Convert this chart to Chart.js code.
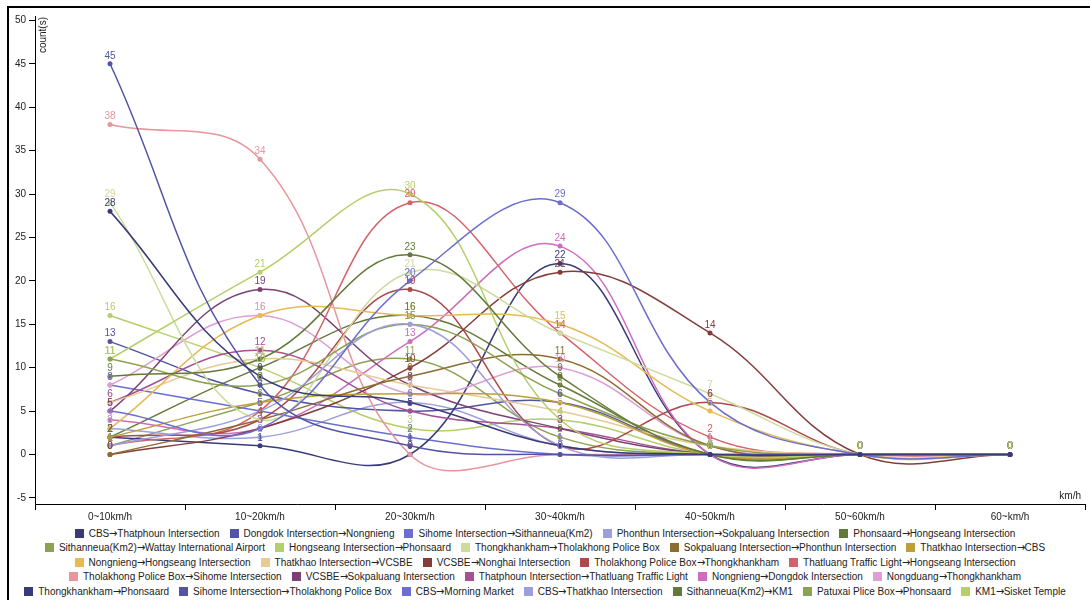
<!DOCTYPE html>
<html>
<head>
<meta charset="utf-8">
<script src="https://cdn.jsdelivr.net/npm/chart.js@4.4.1/dist/chart.umd.min.js"></script>
<style>
  @font-face { font-family: "LegendArrow"; src: local("DejaVu Sans"); unicode-range: U+2192; }
  html, body { margin: 0; padding: 0; background: #fff; }
  #wrap { position: relative; width: 1090px; height: 600px; overflow: hidden; font-family: "Liberation Sans", Arial, sans-serif; }
  #frame { position: absolute; left: 7px; top: 6px; width: 1300px; height: 800px; border-left: 2px solid #000; border-top: 2px solid #000; }
  #chartBox { position: absolute; left: 0; top: 0; width: 1090px; height: 522px; }
  #legend { position: absolute; left: 0; top: 526px; width: 1090px; font-size: 10px; color: #222; font-family: "LegendArrow", "Liberation Sans", Arial, sans-serif; }
  .row { display: flex; justify-content: center; align-items: center; height: 14.5px; white-space: nowrap; }
  .item { display: flex; align-items: center; margin: 0 5px; }
  .sw { width: 9px; height: 9px; margin-right: 5px; }
</style>
</head>
<body>
<div id="wrap">
  <div id="frame"></div>
  <div id="chartBox"><canvas id="c" width="1090" height="522"></canvas></div>
  <div id="legend"></div>
</div>
<script>
// Speed bands on the x axis
const speedBands = ["0~10km/h", "10~20km/h", "20~30km/h", "30~40km/h", "40~50km/h", "50~60km/h", "60~km/h"];
const yTickValues = [-5, 0, 5, 10, 15, 20, 25, 30, 35, 40, 45, 50];

// Vehicle counts per speed band, one array per route
const cbsToThatphoun            = [28, 9, 6, 1, 0, 0, 0];
const dongdokToNongnieng        = [45, 8, 1, 0, 0, 0, 0];
const sihomeToSithanneua        = [5, 3, 20, 29, 6, 0, 0];
const phonthunToSokpaluang      = [1, 5, 15, 1, 0, 0, 0];
const phonsaardToHongseang      = [9, 11, 23, 9, 0, 0, 0];
const sithanneuaToWattay        = [11, 8, 15, 7, 1, 0, 0];
const hongseangToPhonsaard      = [11, 21, 30, 4, 0, 0, 0];
const thongkhankhamToTholakhong = [29, 4, 21, 14, 7, 0, 0];
const sokpaluangToPhonthun      = [0, 4, 9, 11, 1, 0, 0];
const thatkhaoToCbs             = [2, 6, 7, 6, 0, 0, 0];
const nongniengToHongseang      = [3, 16, 16, 15, 5, 0, 0];
const thatkhaoToVcsbe           = [6, 11, 8, 5, 1, 0, 0];
const vcsbeToNonghai            = [0, 3, 10, 21, 14, 0, 0];
const tholakhongToThongkhankham = [2, 4, 19, 1, 6, 0, 0];
const thatluangToHongseang      = [1, 5, 29, 14, 2, 0, 0];
const tholakhongToSihome        = [38, 34, 0, 0, 0, 0, 0];
const vcsbeToSokpaluang         = [5, 19, 8, 3, 0, 0, 0];
const thatphounToThatluang      = [6, 12, 5, 3, 0, 0, 0];
const nongniengToDongdok        = [4, 3, 13, 24, 0, 0, 0];
const nongduangToThongkhankham  = [8, 16, 7, 10, 1, 0, 0];
const thongkhankhamToPhonsaard  = [2, 1, 0, 22, 0, 0, 0];
const sihomeToTholakhong        = [13, 7, 5, 6, 0, 0, 0];
const cbsToMorningMarket        = [8, 5, 2, 0, 0, 0, 0];
const cbsToThatkhao             = [3, 2, 6, 1, 0, 0, 0];
const sithanneuaToKm1           = [2, 10, 16, 8, 0, 0, 0];
const patuxaiToPhonsaard        = [1, 6, 11, 2, 0, 0, 0];
const km1ToSisket               = [16, 10, 3, 4, 0, 0, 0];

const routeNames = [
  "CBS→Thatphoun Intersection", "Dongdok Intersection→Nongnieng", "Sihome Intersection→Sithanneua(Km2)",
  "Phonthun Intersection→Sokpaluang Intersection", "Phonsaard→Hongseang Intersection",
  "Sithanneua(Km2)→Wattay International Airport", "Hongseang Intersection→Phonsaard",
  "Thongkhankham→Tholakhong Police Box", "Sokpaluang Intersection→Phonthun Intersection", "Thatkhao Intersection→CBS",
  "Nongnieng→Hongseang Intersection", "Thatkhao Intersection→VCSBE", "VCSBE→Nonghai Intersection",
  "Tholakhong Police Box→Thongkhankham", "Thatluang Traffic Light→Hongseang Intersection",
  "Tholakhong Police Box→Sihome Intersection", "VCSBE→Sokpaluang Intersection",
  "Thatphoun Intersection→Thatluang Traffic Light", "Nongnieng→Dongdok Intersection", "Nongduang→Thongkhankham",
  "Thongkhankham→Phonsaard", "Sihome Intersection→Tholakhong Police Box", "CBS→Morning Market",
  "CBS→Thatkhao Intersection", "Sithanneua(Km2)→KM1", "Patuxai Plice Box→Phonsaard", "KM1→Sisket Temple"
];
const routeCounts = [
  cbsToThatphoun, dongdokToNongnieng, sihomeToSithanneua, phonthunToSokpaluang, phonsaardToHongseang,
  sithanneuaToWattay, hongseangToPhonsaard, thongkhankhamToTholakhong, sokpaluangToPhonthun, thatkhaoToCbs,
  nongniengToHongseang, thatkhaoToVcsbe, vcsbeToNonghai, tholakhongToThongkhankham, thatluangToHongseang,
  tholakhongToSihome, vcsbeToSokpaluang, thatphounToThatluang, nongniengToDongdok, nongduangToThongkhankham,
  thongkhankhamToPhonsaard, sihomeToTholakhong, cbsToMorningMarket, cbsToThatkhao, sithanneuaToKm1,
  patuxaiToPhonsaard, km1ToSisket
];
const palette = [
  "#393b79", "#5254a3", "#6b6ecf", "#9c9ede", "#637939", "#8ca252", "#b5cf6b", "#cedb9c",
  "#8c6d31", "#bd9e39", "#e7ba52", "#e7cb94", "#843c39", "#ad494a", "#d6616b", "#e7969c",
  "#7b4173", "#a55194", "#ce6dbd", "#de9ed6"
];
const legendRowSizes = [5, 5, 5, 5, 7];

const FONT = '"Liberation Sans", Arial, sans-serif';

// Value written above every point, in the series colour
const valueLabels = {
  id: 'valueLabels',
  afterDatasetsDraw(chart) {
    const ctx = chart.ctx;
    ctx.save();
    ctx.font = '10px ' + FONT;
    ctx.textAlign = 'center';
    ctx.textBaseline = 'bottom';
    chart.data.datasets.forEach((ds, i) => {
      const meta = chart.getDatasetMeta(i);
      ctx.fillStyle = ds.borderColor;
      meta.data.forEach((pt, j) => ctx.fillText(String(ds.data[j]), pt.x, pt.y - 3));
    });
    ctx.restore();
  }
};

// Axis unit captions
const axisCaptions = {
  id: 'axisCaptions',
  afterDraw(chart) {
    const ctx = chart.ctx, a = chart.chartArea;
    ctx.save();
    ctx.font = '10px ' + FONT;
    ctx.fillStyle = '#222';
    ctx.textAlign = 'right';
    ctx.textBaseline = 'alphabetic';
    ctx.fillText('km/h', a.right - 4, a.bottom - 5);
    ctx.translate(a.left + 8, a.top + 1);
    ctx.rotate(-Math.PI / 2);
    ctx.textAlign = 'right';
    ctx.textBaseline = 'middle';
    ctx.fillText('count(s)', 0, 0);
    ctx.restore();
  }
};

const datasets = routeNames.map((name, i) => ({
  label: name,
  data: routeCounts[i],
  borderColor: palette[i % palette.length],
  backgroundColor: palette[i % palette.length],
  borderWidth: 1.5,
  pointRadius: 2.5,
  pointBorderWidth: 0,
  pointBackgroundColor: palette[i % palette.length],
  tension: 0.4,
  fill: false
}));

new Chart(document.getElementById('c'), {
  type: 'line',
  data: { labels: speedBands, datasets },
  plugins: [valueLabels, axisCaptions],
  options: {
    responsive: false,
    animation: false,
    events: [],
    layout: { padding: { top: 16, right: 5, left: 0, bottom: 0 } },
    plugins: { legend: { display: false }, tooltip: { enabled: false } },
    scales: {
      x: {
        offset: true,
        grid: { display: true, offset: true, drawOnChartArea: false, drawTicks: true, tickLength: 6, tickColor: '#000' },
        border: { display: true, color: '#000', width: 1 },
        ticks: { color: '#222', font: { family: FONT, size: 10 }, padding: 1, maxRotation: 0, autoSkip: false },
        afterFit(s) { s.height = 18; }
      },
      y: {
        min: -5.7,
        max: 50.5,
        afterBuildTicks(s) { s.ticks = yTickValues.map(v => ({ value: v })); },
        grid: { display: true, drawOnChartArea: false, drawTicks: true, tickLength: 6, tickColor: '#000' },
        border: { display: true, color: '#000', width: 1 },
        ticks: { color: '#222', font: { family: FONT, size: 10 }, padding: 3 },
        afterFit(s) { s.width = 35; }
      }
    }
  }
});

// Legend rows
const legend = document.getElementById('legend');
let idx = 0;
legendRowSizes.forEach(n => {
  const row = document.createElement('div');
  row.className = 'row';
  for (let k = 0; k < n; k++, idx++) {
    const item = document.createElement('span');
    item.className = 'item';
    const sw = document.createElement('span');
    sw.className = 'sw';
    sw.style.background = palette[idx % palette.length];
    const txt = document.createElement('span');
    txt.textContent = routeNames[idx];
    item.appendChild(sw);
    item.appendChild(txt);
    row.appendChild(item);
  }
  legend.appendChild(row);
});
</script>
</body>
</html>
